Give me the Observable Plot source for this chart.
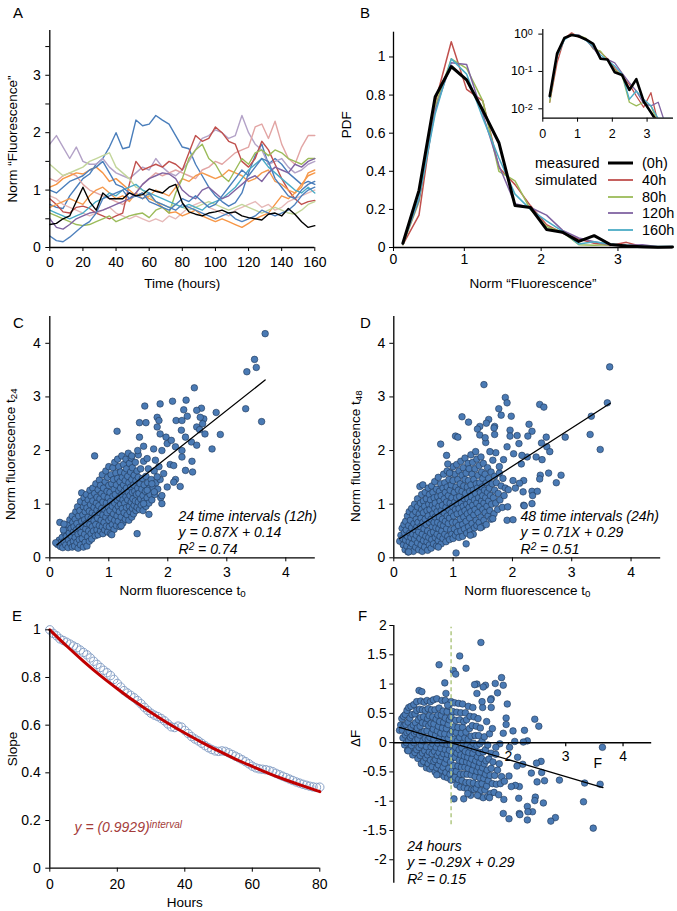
<!DOCTYPE html>
<html><head><meta charset="utf-8">
<script src="https://cdn.jsdelivr.net/npm/d3@7"></script>
<script src="https://cdn.jsdelivr.net/npm/@observablehq/plot@0.6"></script>
<style>
body{margin:0;background:#fff;}
#fig{position:relative;width:677px;height:911px;background:#fff;font-family:'Liberation Sans',Arial,Helvetica,sans-serif;color:#000;overflow:hidden;}
.abs{position:absolute;white-space:nowrap;}
.letter{position:absolute;font-size:15px;line-height:17px;}
</style></head><body><div id="fig"></div>
<script>
// ---------------- DATA ----------------
// Panel A: single-cell traces, sampled every 4 hours
const timeA = d3.range(0, 161, 4);
const aTraceIds = ["blue1","lavender","pink1","pink2","red","orange1","orange2","green","ltgreen","aqua","purple","blue2","blue3","black"];
const aTraceColors = ["#4a7ebb","#b3a2c7","#e2a5a4","#e6b9b8","#c0504d","#f79646","#f59a4e","#9bbb59","#c3d69b","#4bacc6","#8064a2","#4f81bd","#4a7ebb","#000000"];
const aBlue1 = [0.75,0.70,0.68,0.90,1.05, 1.20,1.28,1.45,1.55,1.75, 2.00,1.72,1.75,2.22,2.12, 2.15,2.30,2.22,2.15,1.95, 1.75,1.72,1.45,1.25,1.05, 0.90,0.80,0.72,0.78,0.95, 1.30,1.60,1.80,1.45,1.55, 1.45,1.30,1.20,1.10,1.15, 1.10];
const aLavender = [1.80,1.95,1.75,1.55,1.75, 1.50,1.45,1.45,1.55,1.40, 1.30,1.25,1.20,1.30,1.40, 1.35,1.55,1.40,1.30,1.25, 1.35,1.50,1.70,1.90,1.95, 2.05,2.00,1.90,1.95,2.30, 2.00,1.80,1.70,1.45,1.50, 1.55,1.40,1.30,1.35,1.45, 1.50];
const aPink1 = [1.20,1.15,1.25,1.30,1.25, 1.10,1.00,0.95,0.90,0.85, 0.80,0.75,0.85,0.95,1.10, 1.20,1.30,1.25,1.30,1.35, 1.30,1.25,1.20,1.35,1.40, 1.50,1.45,1.55,1.65,1.70, 1.75,2.10,2.15,1.90,2.20, 1.80,1.55,1.45,1.75,1.95, 1.95];
const aPink2 = [0.90,0.85,0.75,0.70,0.65, 0.60,0.55,0.60,0.65,0.70, 0.60,0.55,0.50,0.55,0.50, 0.45,0.50,0.45,0.55,0.50, 0.60,0.70,0.75,0.80,0.70, 0.65,0.60,0.55,0.65,0.70, 0.75,0.80,0.70,0.75,0.65, 0.70,0.80,0.85,0.90,0.95, 1.00];
const aRed = [0.85,0.75,0.62,0.60,0.70, 0.72,0.68,0.60,0.55,0.50, 0.55,0.60,1.10,1.50,1.35, 1.40,1.45,1.40,1.50,1.45, 1.35,1.65,1.95,1.85,1.90, 2.10,2.00,1.85,1.80,1.50, 1.40,1.55,1.85,1.70,1.45, 1.20,1.00,0.85,0.75,0.80, 0.82];
const aOrange1 = [1.05,1.10,1.20,1.25,1.30, 1.28,1.35,1.40,1.30,1.15, 1.20,1.10,1.00,0.90,0.95, 0.85,0.80,0.70,0.60,0.62, 0.55,0.60,0.65,0.55,0.50, 0.45,0.50,0.45,0.40,0.35, 0.42,0.50,0.55,0.60,0.75, 0.90,0.85,0.95,1.10,1.25, 1.30];
const aOrange2 = [0.70,0.75,0.80,0.85,0.80, 0.75,0.90,1.00,1.05,0.95, 0.85,0.90,0.80,0.95,0.85, 0.90,1.00,0.95,0.90,1.05, 1.20,1.15,1.25,1.30,1.25, 1.20,1.25,1.35,1.30,1.25, 1.15,1.20,1.30,1.35,1.15, 1.10,1.00,0.95,1.05,1.30, 1.35];
const aGreen = [0.60,0.55,0.50,0.45,0.40, 0.38,0.40,0.45,0.50,0.55, 0.45,0.50,0.55,0.58,0.60, 0.52,0.65,0.70,0.60,0.95, 1.20,1.55,1.70,1.80,1.55, 1.45,1.25,1.15,1.35,1.55, 1.45,1.65,1.70,1.60,1.70, 1.65,1.55,1.50,1.45,1.55, 1.55];
const aLtGreen = [1.45,1.35,1.25,1.30,1.35, 1.40,1.50,1.55,1.60,1.65, 1.40,1.30,1.20,1.05,1.00, 0.90,0.80,0.75,0.70,0.75, 0.70,0.65,0.70,0.75,0.80, 0.75,0.70,0.65,0.70,0.75, 0.70,0.65,0.60,0.65,0.70, 0.65,0.60,0.58,0.65,0.75, 0.80];
const aAqua = [0.65,0.60,0.55,0.50,0.55, 0.60,0.70,0.80,0.85,0.95, 0.90,1.00,1.05,1.10,1.00, 0.95,0.90,0.85,0.80,0.75, 0.70,0.75,0.70,0.65,0.75, 0.80,0.85,0.95,1.05,1.20, 1.35,1.45,1.55,1.40,1.30, 1.20,1.10,1.00,0.95,1.05, 0.95];
const aPurple = [0.50,0.35,0.32,0.40,0.50, 0.55,0.60,0.62,0.65,0.70, 0.75,0.80,0.85,0.95,1.10, 1.20,1.25,1.30,1.28,1.20, 1.00,0.90,0.85,1.00,1.05, 0.95,0.85,0.90,1.00,1.10, 1.20,1.25,1.15,1.30,1.40, 1.35,1.30,1.45,1.40,1.50, 1.55];
const aBlue2 = [0.20,0.12,0.10,0.18,0.28, 0.38,0.45,0.60,0.85,0.90, 0.95,1.00,0.85,0.90,0.85, 0.95,0.80,0.75,0.70,0.65, 0.75,0.70,0.65,0.60,0.55, 0.50,0.55,0.60,0.50,0.45, 0.50,0.55,0.65,0.60,0.55, 0.60,0.65,0.75,0.90,1.00, 1.05];
const aBlue3 = [1.00,0.95,1.05,1.15,1.20, 1.25,1.35,1.40,1.50,1.30, 1.10,1.05,0.95,0.90,0.95, 0.80,0.75,0.70,0.65,0.75, 0.85,0.80,0.90,0.80,0.70, 0.75,0.90,1.05,1.20,1.35, 1.25,1.40,1.55,1.50,1.20, 1.05,0.90,0.85,1.00,1.10, 1.15];
const aBlack = [0.40,0.42,0.50,0.55,0.80, 1.05,0.80,0.65,0.95,0.85, 0.85,0.85,0.95,0.90,0.92, 1.02,0.98,0.95,1.05,1.10, 0.78,0.62,0.58,0.55,0.60, 0.62,0.65,0.60,0.62,0.55, 0.52,0.50,0.48,0.58,0.60, 0.55,0.68,0.58,0.45,0.35, 0.38];
const aTraces = [aBlue1,aLavender,aPink1,aPink2,aRed,aOrange1,aOrange2,aGreen,aLtGreen,aAqua,aPurple,aBlue2,aBlue3,aBlack];
const aXTicks = [0,20,40,60,80,100,120,140,160];
const aYTicks = [0,0.5,1,1.5,2,2.5,3,3.5];

// Panel B: PDF of normalised fluorescence
const bBins = [0.2,0.41,0.62,0.83,1.03,1.24,1.45,1.66,1.86,2.07,2.28,2.49,2.69,2.9,3.11,3.32,3.52,3.71];
const bLabels = ["(0h)","40h","80h","120h","160h"];
const bColors = ["#000000","#c0504d","#9bbb59","#8064a2","#4bacc6"];
const bWidths = [3,1.5,1.5,1.5,1.5];
const b0h   = [0.022,0.30,0.79,0.95,0.88,0.72,0.55,0.22,0.21,0.095,0.08,0.032,0.062,0.016,0.008,0.004,0.001,0.003];
const b40h  = [0.015,0.17,0.76,1.08,0.83,0.77,0.42,0.33,0.22,0.12,0.075,0.045,0.022,0.011,0.027,0.004,0.002,0.002];
const b80h  = [0.015,0.24,0.74,0.99,0.94,0.77,0.40,0.35,0.20,0.11,0.08,0.015,0.012,0.015,0.012,0.004,0.002,0.002];
const b120h = [0.02,0.25,0.72,0.97,0.96,0.70,0.43,0.23,0.21,0.17,0.09,0.05,0.03,0.014,0.012,0.015,0.004,0.002];
const b160h = [0.02,0.26,0.70,0.99,0.91,0.68,0.47,0.28,0.20,0.14,0.085,0.018,0.03,0.018,0.012,0.0055,0.0055,0.0055];
const bSeries = [b0h,b40h,b80h,b120h,b160h];
const bYTicks = [0,0.2,0.4,0.6,0.8,1];
const bInsetYTicks = [1,0.1,0.01];

// Panel C: t0 vs t24 (dense cloud + outliers)
const cDense = [
 [0.13,0.25],[0.16,0.33],[0.18,0.21],[0.19,0.29],
 [0.21,0.38],[0.22,0.19],[0.24,0.30],[0.25,0.47],[0.27,0.24],[0.28,0.40],[0.29,0.55],[0.23,0.52],
 [0.31,0.19],[0.32,0.33],[0.33,0.46],[0.31,0.62],[0.34,0.71],[0.35,0.27],[0.36,0.55],[0.37,0.40],[0.38,0.20],[0.39,0.66],[0.38,0.78],[0.40,0.31],[0.40,0.48],
 [0.41,0.58],[0.42,0.22],[0.43,0.38],[0.43,0.72],[0.44,0.86],[0.45,0.52],[0.46,0.29],[0.46,0.64],[0.47,0.95],[0.48,0.44],[0.48,0.18],[0.49,0.78],[0.50,0.57],[0.50,0.34],
 [0.51,0.88],[0.52,0.24],[0.52,1.05],[0.53,0.47],[0.54,0.68],[0.54,1.21],[0.55,0.36],[0.56,0.80],[0.56,0.58],[0.57,0.95],[0.57,0.20],[0.58,1.12],[0.59,0.44],[0.59,0.71],[0.60,0.29],[0.60,0.86],[0.60,1.02],
 [0.61,0.54],[0.62,0.64],[0.62,1.18],[0.63,0.22],[0.63,0.93],[0.64,0.39],[0.65,0.76],[0.65,1.08],[0.66,0.50],[0.67,0.31],[0.67,0.87],[0.68,1.26],[0.68,0.62],[0.69,0.99],[0.70,0.45],[0.70,0.73],[0.70,1.15],
 [0.71,0.35],[0.72,0.84],[0.72,0.58],[0.73,1.06],[0.73,1.30],[0.74,0.50],[0.75,0.94],[0.75,0.69],[0.76,1.20],[0.77,0.41],[0.77,0.80],[0.78,1.38],[0.78,0.62],[0.79,1.02],[0.80,0.52],[0.80,0.89],[0.80,1.13],
 [0.81,0.74],[0.82,1.27],[0.82,0.43],[0.83,0.97],[0.84,0.60],[0.84,1.45],[0.85,0.84],[0.85,1.10],[0.86,0.50],[0.86,1.35],[0.87,0.70],[0.88,0.92],[0.88,1.20],[0.89,0.58],[0.89,1.55],[0.90,0.80],[0.90,1.04],[0.90,0.45],
 [0.91,1.30],[0.92,0.66],[0.92,1.15],[0.93,0.52],[0.93,0.90],[0.94,1.42],[0.95,0.76],[0.95,1.62],[0.96,1.02],[0.96,0.59],[0.97,1.24],[0.97,0.84],[0.98,1.50],[0.98,0.48],[0.99,0.95],[0.99,1.12],[1.00,0.70],[1.00,1.35],[1.00,1.70],
 [1.01,0.58],[1.02,0.88],[1.02,1.22],[1.03,1.05],[1.03,0.45],[1.04,1.55],[1.04,0.74],[1.05,1.38],[1.06,0.96],[1.06,0.62],[1.07,1.15],[1.07,1.68],[1.08,0.82],[1.08,1.46],[1.09,0.53],[1.09,1.28],[1.10,1.02],[1.10,0.70],[1.10,1.78],
 [1.11,1.18],[1.12,0.90],[1.12,1.58],[1.13,0.60],[1.13,1.36],[1.14,0.78],[1.14,1.08],[1.15,1.48],[1.15,1.84],[1.16,0.96],[1.16,0.68],[1.17,1.25],[1.17,1.70],[1.18,0.86],[1.18,1.12],[1.19,1.42],[1.19,0.58],[1.20,1.00],[1.20,1.60],[1.20,1.30],
 [1.21,0.76],[1.22,1.18],[1.22,1.90],[1.23,0.92],[1.23,1.50],[1.24,0.65],[1.24,1.08],[1.25,1.36],[1.25,1.74],[1.26,0.84],[1.26,1.24],[1.27,1.02],[1.27,1.58],[1.28,0.72],[1.28,1.44],[1.29,1.14],[1.29,1.84],[1.30,0.94],[1.30,1.30],[1.30,1.66],
 [1.31,0.80],[1.32,1.08],[1.32,1.52],[1.33,1.22],[1.33,1.95],[1.34,0.70],[1.34,1.40],[1.35,0.96],[1.35,1.76],[1.36,1.16],[1.36,0.86],[1.37,1.60],[1.37,1.32],[1.38,1.04],[1.38,1.86],[1.39,0.76],[1.39,1.46],[1.40,1.22],[1.40,0.92],[1.40,1.68],
 [1.41,1.10],[1.42,1.36],[1.42,0.82],[1.43,1.54],[1.43,0.98],[1.44,1.24],[1.45,1.78],[1.45,1.06],[1.46,0.88],[1.46,1.44],[1.47,1.18],[1.48,1.62],[1.48,0.94],[1.49,1.30],[1.50,1.04],[1.50,1.92],[1.50,1.50],
 [1.51,1.20],[1.52,0.90],[1.53,1.38],[1.54,1.10],[1.54,1.66],[1.55,0.98],[1.56,1.28],[1.57,1.48],[1.58,1.16],[1.58,0.88],[1.59,1.80],[1.60,1.36],[1.60,1.06],
 [1.62,1.24],[1.63,0.96],[1.63,1.52],[1.65,1.12],[1.66,1.40],[1.67,1.66],[1.68,1.02],[1.69,1.30],[1.70,1.18],
 [1.72,1.46],[1.73,1.08],[1.75,1.30],[1.77,1.62],[1.78,1.18],[1.80,1.40],[1.83,1.28],[1.85,1.70],[1.87,1.46],[1.88,1.12]
];
const cOutliers = [[3.65,4.18],[3.47,3.70],[3.50,3.55],[3.34,3.47],[3.32,2.78],[3.59,2.54],[2.45,3.17],[2.08,2.92],[2.31,2.94],[2.27,2.76],[2.33,2.64],[1.61,2.83],[1.87,2.87],[2.82,2.71],[2.57,2.79],[2.49,2.75],[2.61,2.59],[2.55,2.62],[2.59,2.50],[2.49,2.44],[2.54,2.39],[2.63,2.31],[2.89,2.30],[2.75,2.03],[2.41,1.80],[2.30,1.63],[2.42,1.60],[2.21,1.33],[2.13,1.46],[2.10,1.41],[1.14,2.36],[0.76,1.90],[1.52,2.52],[1.63,2.52],[1.82,2.62],[1.85,2.56],[2.14,2.56],[2.24,2.56],[1.82,2.44],[1.87,2.31],[1.97,2.25],[2.23,2.38],[2.30,2.25],[2.40,2.16],[2.49,2.10],[2.13,2.07],[2.24,2.00],[1.99,2.13],[2.06,2.19],[1.90,2.00],[1.76,2.03],[1.59,2.08],[1.52,2.25],[1.39,1.90],[1.49,2.00],[1.65,1.85],[1.79,1.82],[2.24,1.88],[2.04,1.74],[1.93,1.57],[1.82,1.51],[1.90,1.16],[1.90,1.01],[1.77,1.23],[1.65,1.26],[1.73,1.38],[1.99,1.32],[2.10,1.72],[1.48,0.45],[1.21,0.60],[1.05,0.43],[1.68,0.81],[1.59,1.01],[0.17,0.66],[0.24,0.63],[0.10,0.28]];
const cFit = {slope: 0.87, intercept: 0.14, from: 0.12, to: 3.65};

// Panel D: t0 vs t48
const dDense = [
 [0.10,0.31],[0.12,0.42],[0.14,0.55],[0.15,0.36],[0.16,0.24],[0.17,0.62],[0.18,0.47],[0.19,0.15],[0.20,0.33],[0.20,0.68],
 [0.21,0.52],[0.22,0.22],[0.23,0.40],[0.23,0.78],[0.24,0.11],[0.25,0.60],[0.26,0.30],[0.26,0.86],[0.27,0.46],[0.28,0.18],[0.28,0.70],[0.29,0.38],[0.30,0.56],[0.30,0.92],
 [0.31,0.26],[0.32,0.80],[0.32,0.44],[0.33,0.12],[0.34,0.64],[0.35,0.35],[0.35,1.00],[0.36,0.52],[0.37,0.20],[0.37,0.86],[0.38,0.72],[0.38,0.42],[0.39,0.58],[0.40,0.28],[0.40,1.10],[0.40,0.95],
 [0.41,0.66],[0.42,0.15],[0.42,0.48],[0.43,0.82],[0.44,1.33],[0.44,0.36],[0.45,1.02],[0.45,0.58],[0.46,0.24],[0.46,0.74],[0.47,0.90],[0.47,1.18],[0.48,0.44],[0.48,0.12],[0.49,1.36],[0.49,0.66],[0.50,0.32],[0.50,0.84],[0.50,1.06],
 [0.51,0.54],[0.52,0.20],[0.52,0.96],[0.53,0.72],[0.53,1.22],[0.54,0.40],[0.55,0.62],[0.55,1.10],[0.56,0.30],[0.56,0.88],[0.57,0.14],[0.57,0.50],[0.58,1.30],[0.58,0.78],[0.59,1.00],[0.59,0.38],[0.60,0.66],[0.60,1.18],[0.60,0.24],
 [0.61,0.90],[0.62,0.46],[0.62,1.08],[0.63,0.18],[0.63,0.72],[0.64,1.34],[0.64,0.34],[0.65,0.58],[0.65,0.98],[0.66,1.22],[0.66,0.82],[0.67,0.26],[0.67,0.48],[0.68,1.12],[0.68,0.66],[0.69,0.92],[0.69,1.42],[0.70,0.38],[0.70,0.76],[0.70,1.02],
 [0.71,0.56],[0.72,1.28],[0.72,0.22],[0.73,0.86],[0.73,0.44],[0.74,1.14],[0.74,0.66],[0.75,1.50],[0.75,0.32],[0.76,0.96],[0.76,0.54],[0.77,1.24],[0.77,0.76],[0.78,1.06],[0.78,0.40],[0.79,0.62],[0.79,1.38],[0.80,0.88],[0.80,0.26],[0.80,1.16],
 [0.81,0.50],[0.82,0.98],[0.82,0.72],[0.83,1.30],[0.83,0.36],[0.84,1.56],[0.84,0.60],[0.85,1.10],[0.85,0.84],[0.86,0.44],[0.86,1.40],[0.87,0.68],[0.87,1.22],[0.88,0.94],[0.88,0.30],[0.89,1.04],[0.89,0.54],[0.90,1.62],[0.90,0.78],[0.90,1.32],
 [0.91,0.40],[0.92,1.16],[0.92,0.64],[0.93,0.90],[0.93,1.46],[0.94,0.34],[0.94,0.74],[0.95,1.26],[0.95,1.02],[0.96,0.52],[0.96,1.58],[0.97,0.84],[0.97,1.36],[0.98,0.44],[0.98,1.12],[0.99,0.66],[0.99,0.96],[1.00,1.70],[1.00,1.44],[1.00,0.36],
 [1.01,0.78],[1.02,1.22],[1.02,0.54],[1.03,1.04],[1.03,1.56],[1.04,0.42],[1.04,0.90],[1.05,1.32],[1.05,0.66],[1.06,1.74],[1.06,1.12],[1.07,0.48],[1.07,0.82],[1.08,1.46],[1.08,1.00],[1.09,0.60],[1.09,1.26],[1.10,0.38],[1.10,1.62],[1.10,0.92],
 [1.11,1.14],[1.12,0.72],[1.12,1.38],[1.13,0.50],[1.13,1.80],[1.14,1.02],[1.14,0.84],[1.15,1.54],[1.15,1.24],[1.16,0.62],[1.16,0.40],[1.17,0.96],[1.17,1.68],[1.18,1.34],[1.18,0.76],[1.19,1.10],[1.19,0.54],[1.20,1.46],[1.20,1.86],[1.20,0.88],
 [1.21,1.20],[1.22,0.68],[1.22,1.58],[1.23,0.46],[1.23,1.00],[1.24,1.32],[1.24,0.82],[1.25,1.76],[1.25,1.10],[1.26,0.58],[1.26,1.44],[1.27,0.94],[1.27,1.66],[1.28,1.24],[1.28,0.74],[1.29,0.50],[1.29,1.04],[1.30,1.92],[1.30,1.36],[1.30,0.86],
 [1.31,1.14],[1.32,0.64],[1.32,1.56],[1.33,0.98],[1.33,1.78],[1.34,0.44],[1.34,1.26],[1.35,0.80],[1.35,1.46],[1.36,1.08],[1.36,0.56],[1.37,1.66],[1.37,0.90],[1.38,1.20],[1.38,1.98],[1.39,0.70],[1.39,1.38],[1.40,1.02],[1.40,1.84],[1.40,0.60],
 [1.41,1.30],[1.42,0.84],[1.42,1.54],[1.43,1.12],[1.44,0.66],[1.44,1.72],[1.45,0.96],[1.45,1.40],[1.46,1.22],[1.47,0.76],[1.47,1.88],[1.48,1.06],[1.48,1.60],[1.49,0.58],[1.49,1.32],[1.50,0.90],[1.50,1.16],[1.50,1.48],
 [1.51,1.76],[1.52,1.02],[1.52,0.70],[1.53,1.26],[1.54,1.56],[1.54,0.84],[1.55,1.12],[1.56,1.40],[1.56,0.62],[1.57,0.96],[1.58,1.68],[1.58,1.22],[1.59,0.78],[1.60,1.06],[1.60,1.48],
 [1.61,1.30],[1.62,0.88],[1.63,1.16],[1.64,1.60],[1.64,0.72],[1.65,1.00],[1.66,1.38],[1.67,1.82],[1.68,1.12],[1.69,0.82],[1.70,1.26],[1.70,1.52],
 [1.72,1.02],[1.73,1.40],[1.75,0.90],[1.76,1.20],[1.78,1.58],[1.79,1.08],[1.81,1.34],[1.83,0.94],[1.84,1.48],[1.86,1.16],[1.88,1.30]
];
const dOutliers = [[3.64,3.56],[3.60,2.89],[3.31,2.30],[3.48,2.02],[3.33,2.64],[1.52,3.23],[1.88,2.99],[1.91,2.89],[1.77,2.78],[1.81,2.66],[1.98,2.64],[1.60,2.58],[1.70,2.45],[1.56,2.51],[1.45,2.45],[1.15,2.63],[1.26,2.53],[2.46,2.86],[2.53,2.81],[2.28,2.49],[2.33,2.36],[2.26,2.27],[1.96,2.38],[2.08,2.28],[2.11,2.13],[1.96,2.27],[1.04,2.27],[1.08,2.25],[0.79,2.12],[0.91,1.75],[0.94,1.58],[2.57,2.25],[2.49,2.14],[2.58,2.07],[2.63,1.98],[2.89,2.25],[2.40,1.88],[2.50,1.83],[2.25,1.88],[2.15,1.75],[2.16,1.91],[2.02,1.94],[1.91,2.07],[1.85,1.83],[2.47,1.54],[2.46,1.47],[2.61,1.58],[2.82,1.54],[2.74,1.40],[2.33,1.24],[2.42,1.24],[2.34,1.16],[2.33,1.01],[2.19,1.44],[2.18,1.23],[2.19,0.98],[2.12,1.39],[2.01,1.44],[1.93,1.27],[1.92,0.95],[1.91,0.70],[2.01,0.71],[1.67,0.73],[1.46,0.56],[1.22,0.26],[1.29,0.42],[0.75,0.20],[0.25,0.11],[1.05,0.09],[2.20,0.97],[2.05,1.30],[1.72,1.96],[1.62,1.98],[1.55,2.15],[1.78,1.70],[0.89,1.91],[1.41,2.40],[1.70,2.30],[1.45,2.29],[1.69,2.42],[1.54,2.24]];
const dFit = {slope: 0.71, intercept: 0.29, from: 0.10, to: 3.65};

// Panel E: regression slope vs interval length
const eHours = d3.range(0, 81);
const eSlope = [1.000,0.985,0.975,0.962,0.955,0.948,0.940,0.932,0.925,0.915,0.905,0.895,0.882,0.868,0.855,0.842,0.830,0.820,0.808,0.792,0.775,0.760,0.745,0.735,0.725,0.715,0.703,0.690,0.675,0.662,0.650,0.642,0.636,0.628,0.618,0.605,0.593,0.590,0.596,0.592,0.578,0.565,0.552,0.542,0.534,0.524,0.514,0.505,0.498,0.492,0.490,0.492,0.490,0.484,0.477,0.470,0.463,0.455,0.447,0.438,0.428,0.421,0.417,0.415,0.413,0.410,0.405,0.398,0.392,0.386,0.380,0.374,0.368,0.362,0.357,0.352,0.348,0.344,0.341,0.339,0.340];
const eFitHours = [0,5,10,15,20,25,30,35,40,45,50,55,60,65,70,75,80];
const eFitSlope = [1.0,0.932,0.868,0.808,0.753,0.701,0.653,0.608,0.567,0.528,0.492,0.458,0.427,0.397,0.370,0.345,0.321];

// Panel F: change over 24 h (same cells as D)
const fFit = {slope: -0.29, intercept: 0.29, from: 0.10, to: 3.65};
const fThreshold = {x: 1, y1: -1.4, y2: 1.97};
const fXTicks = [1,2,3,4];
const fYTicks = [-2,-1.5,-1,-0.5,0,0.5,1,1.5,2];

// ---------------- HELPERS ----------------
const FONT = "'Liberation Sans', Arial, Helvetica, sans-serif";
const fig = document.getElementById("fig");
const DOT_FILL = "#4a7ab4", DOT_STROKE = "#1e3656";
function st(size){ return {fontFamily: FONT, fontSize: size + "px", background: "transparent", color: "#000", overflow: "visible"}; }
function place(el, left, top){ el.style.position = "absolute"; el.style.left = left + "px"; el.style.top = top + "px"; fig.appendChild(el); richify(el); return el; }
function richify(root){
  const NS = "http://www.w3.org/2000/svg";
  root.querySelectorAll("text, tspan").forEach(el => {
    if (el.children.length) return;
    const s = el.textContent;
    if (!/[\^_]\{/.test(s)) return;
    el.textContent = "";
    const re = /([\^_])\{([^}]*)\}/g; let last = 0, m;
    const add = (txt, kind) => { const t = document.createElementNS(NS, "tspan"); t.textContent = txt;
      if (kind) { t.setAttribute("font-size", "72%"); t.setAttribute("baseline-shift", kind === "^" ? "38%" : "-22%"); }
      el.appendChild(t); };
    while ((m = re.exec(s))) { if (m.index > last) add(s.slice(last, m.index)); add(m[2], m[1]); last = re.lastIndex; }
    if (last < s.length) add(s.slice(last));
  });
}
const fmt = d => String(d);
const xTitle = (t, dy) => Plot.text([t], {text: d => d, frameAnchor: "bottom", dy, lineAnchor: "middle", textAnchor: "middle", fontSize: 13.5});
const yTitle = (t, dx, dy = 0) => Plot.text([t], {text: d => d, frameAnchor: "left", dx, dy, rotate: -90, textAnchor: "middle", lineAnchor: "middle", fontSize: 13.5});

// ---------------- PANEL A ----------------
const aRows = aTraces.flatMap((vals, i) => vals.map((v, j) => ({id: aTraceIds[i], color: aTraceColors[i], t: timeA[j], v})));
place(Plot.plot({
  width: 340, height: 300, marginLeft: 49.3, marginRight: 25.7, marginTop: 30, marginBottom: 53,
  style: st(14), x: {domain: [0, 160]}, y: {domain: [0, 3.78]}, color: {type: "identity"},
  marks: [
    Plot.line(aRows, {x: "t", y: "v", z: "id", stroke: "color", strokeWidth: 1.4}),
    Plot.ruleX([0], {strokeWidth: 1.3}), Plot.ruleY([0], {strokeWidth: 1.3}),
    Plot.axisX({ticks: aXTicks, tickSize: 4, tickPadding: 6, label: null, tickFormat: fmt}),
    Plot.axisY({ticks: aYTicks, tickSize: 4, tickPadding: 5, label: null, tickFormat: d => Number.isInteger(d) ? String(d) : ""}),
    xTitle("Time (hours)", 36),
    yTitle("Norm “Fluorescence”", -37)
  ]
}), 0, 0);

// ---------------- PANEL B ----------------
const bRows = bSeries.flatMap((vals, i) => vals.map((v, j) => ({id: bLabels[i], color: bColors[i], measured: i === 0, x: bBins[j], v})));
const bSim = bRows.filter(d => !d.measured), bMeas = bRows.filter(d => d.measured);
place(Plot.plot({
  width: 337, height: 300, marginLeft: 53, marginRight: 5, marginTop: 31.7, marginBottom: 53,
  style: st(14), x: {domain: [0.078, 3.71]}, y: {domain: [0, 1.13]}, color: {type: "identity"},
  marks: [
    Plot.line(bSim, {x: "x", y: "v", z: "id", stroke: "color", strokeWidth: 1.5}),
    Plot.line(bMeas, {x: "x", y: "v", z: "id", stroke: "color", strokeWidth: 3}),
    Plot.ruleX([0.078], {strokeWidth: 1.3}), Plot.ruleY([0], {strokeWidth: 1.3}),
    Plot.axisX({ticks: [0.078, 1, 2, 3], tickSize: 4, tickPadding: 3, label: null, tickFormat: d => d < 0.5 ? "0" : String(d)}),
    Plot.axisY({ticks: bYTicks, tickSize: 4, tickPadding: 4, label: null, tickFormat: fmt}),
    xTitle("Norm “Fluorescence”", 36),
    yTitle("PDF", -47, -15)
  ]
}), 340, 0);

// inset (log scale)
place(Plot.plot({
  width: 187, height: 140, marginLeft: 52.3, marginRight: 4, marginTop: 29, marginBottom: 22.3,
  style: st(12.5), x: {domain: [0, 3.76]}, y: {type: "log", domain: [0.0056, 1.33]}, color: {type: "identity"},
  marks: [
    Plot.line(bSim, {x: "x", y: "v", z: "id", stroke: "color", strokeWidth: 1.3, clip: true}),
    Plot.line(bMeas, {x: "x", y: "v", z: "id", stroke: "color", strokeWidth: 2.6, clip: true}),
    Plot.ruleX([0], {strokeWidth: 1.2}), Plot.ruleY([0.0056], {strokeWidth: 1.2}),
    Plot.axisX({ticks: [0, 1, 2, 3], tickSize: 4, tickPadding: 7, label: null, tickFormat: fmt}),
    Plot.axisY({ticks: bInsetYTicks, tickSize: 4, tickPadding: 6, label: null, tickFormat: d => "10^{" + Math.round(Math.log10(d)) + "}"})
  ]
}), 490, 0);

// legend for B
["measured", "simulated"].forEach((t, i) => {
  const el = document.createElement("div"); el.className = "abs";
  el.style.fontSize = "14.5px"; el.style.lineHeight = "18px"; el.textContent = t;
  place(el, 535, 163.3 + i * 16.7 - 9);
});
bLabels.forEach((lab, i) => {
  const el = document.createElement("div"); el.className = "abs";
  el.style.cssText += "display:flex;align-items:center;height:18px;font-size:14.5px;";
  el.innerHTML = `<svg width="34" height="18" style="display:block"><line x1="0" x2="25" y1="9" y2="9" stroke="${bColors[i]}" stroke-width="${bWidths[i] === 3 ? 3 : 1.8}"/></svg><span>${lab}</span>`;
  place(el, 608, 163.3 + i * 16.7 - 9);
});

// ---------------- PANELS C & D ----------------
function scatter(points, fit, opts){
  return Plot.plot({
    width: opts.width, height: 320, marginLeft: opts.ml, marginRight: opts.mr, marginTop: 26, marginBottom: 52.7,
    style: st(14), x: {domain: [0, 4.5]}, y: {domain: [0, 4.5]},
    marks: [
      Plot.dot(points, {x: d => d[0], y: d => d[1], r: 3.3, fill: DOT_FILL, stroke: DOT_STROKE, strokeWidth: 0.6}),
      Plot.line([fit.from, fit.to], {x: d => d, y: d => fit.slope * d + fit.intercept, stroke: "#000", strokeWidth: 1.3}),
      Plot.ruleX([0], {strokeWidth: 1.3}), Plot.ruleY([0], {strokeWidth: 1.3}),
      Plot.axisX({ticks: [0, 1, 2, 3, 4], tickSize: 4, tickPadding: 5.3, label: null, tickFormat: fmt}),
      Plot.axisY({ticks: [0, 1, 2, 3, 4], tickSize: 4, tickPadding: opts.pad, label: null, tickFormat: fmt}),
      xTitle("Norm fluorescence t_{0}", 33),
      yTitle(opts.ylabel, opts.ydx, opts.ydy),
      Plot.text([opts.note], {text: d => d, frameAnchor: "top-left", dx: opts.ndx, dy: 215.7, textAnchor: "start", lineAnchor: "middle", lineHeight: 1.18, fontSize: 14, fontStyle: "italic"})
    ]
  });
}
const cPoints = cDense.concat(cOutliers);
place(scatter(cPoints, cFit, {width: 340, ml: 49.3, mr: 25.2, pad: 5, ydx: -39, ydy: 17, ndx: 128.7,
  ylabel: "Norm fluorescence t_{24}", note: "24 time intervals (12h)\ny = 0.87X + 0.14\nR^{2} = 0.74"}), 0, 290);
const dPoints = dDense.concat(dOutliers);
place(scatter(dPoints, dFit, {width: 337, ml: 53.3, mr: 16.8, pad: 4.5, ydx: -38, ydy: 19, ndx: 126.7,
  ylabel: "Norm fluorescence t_{48}", note: "48 time intervals (24h)\ny = 0.71X + 0.29\nR^{2} = 0.51"}), 340, 290);

// ---------------- PANEL E ----------------
const eRows = eHours.map((h, i) => ({h, s: eSlope[i]}));
const eFitRows = eFitHours.map((h, i) => ({h, s: eFitSlope[i]}));
place(Plot.plot({
  width: 340, height: 311, marginLeft: 49.3, marginRight: 20.7, marginTop: 29.3, marginBottom: 43.3,
  style: st(14), x: {domain: [0, 80]}, y: {domain: [0, 1]},
  marks: [
    Plot.dot(eRows, {x: "h", y: "s", r: 4.2, stroke: "#8aa3c8", strokeWidth: 1, fill: "none"}),
    Plot.line(eFitRows, {x: "h", y: "s", curve: "natural", stroke: "#c00000", strokeWidth: 3}),
    Plot.ruleX([0], {strokeWidth: 1.3}), Plot.ruleY([0], {strokeWidth: 1.3}),
    Plot.axisX({ticks: [0, 20, 40, 60, 80], tickSize: 4, tickPadding: 6.7, label: null, tickFormat: fmt}),
    Plot.axisY({ticks: [0, 0.2, 0.4, 0.6, 0.8, 1], tickSize: 4, tickPadding: 5, label: null, tickFormat: fmt}),
    xTitle("Hours", 34),
    yTitle("Slope", -37),
    Plot.text(["y = (0.9929)^{interval}"], {text: d => d, frameAnchor: "top-left", dx: 24.7, dy: 197.4, textAnchor: "start", lineAnchor: "middle", fontSize: 14, fontStyle: "italic", fill: "#a43c3a"})
  ]
}), 0, 600);

// ---------------- PANEL F ----------------
const fPoints = dPoints.map(([x, y]) => [x, y - x]);
place(Plot.plot({
  width: 337, height: 311, marginLeft: 53.3, marginRight: 25.8, marginTop: 25, marginBottom: 28.3,
  style: st(14), x: {domain: [0, 4.5], axis: null}, y: {domain: [-2.4, 2]},
  marks: [
    Plot.ruleX(fXTicks, {x: d => d, y1: 0, y2: -0.07, strokeWidth: 1.2}),
    Plot.text(fXTicks, {x: d => d, y: 0, dy: 14, text: fmt, fontSize: 14}),
    Plot.dot(fPoints, {x: d => d[0], y: d => d[1], r: 3.3, fill: DOT_FILL, stroke: DOT_STROKE, strokeWidth: 0.6}),
    Plot.ruleY([0], {strokeWidth: 1.5}),
    Plot.ruleX([fThreshold], {x: "x", y1: "y1", y2: "y2", stroke: "#b6cc8c", strokeWidth: 1.6, strokeDasharray: "4,3"}),
    Plot.line([fFit.from, fFit.to], {x: d => d, y: d => fFit.slope * d + fFit.intercept, stroke: "#000", strokeWidth: 1.3}),
    Plot.ruleX([0], {strokeWidth: 1.3}),
    Plot.axisY({ticks: fYTicks, tickSize: 4, tickPadding: 3, label: null, tickFormat: fmt}),
    Plot.text(["F"], {text: d => d, frameAnchor: "top-left", dx: 199.7, dy: 138, lineAnchor: "middle", fontSize: 14}),
    yTitle("ΔF", -38, -16),
    Plot.text(["24 hours\ny = -0.29X + 0.29\nR^{2} = 0.15"], {text: d => d, frameAnchor: "top-left", dx: 13.4, dy: 236.7, textAnchor: "start", lineAnchor: "middle", lineHeight: 1.18, fontSize: 14, fontStyle: "italic"})
  ]
}), 340, 600);

// ---------------- PANEL LETTERS ----------------
[["A",13,4],["B",360,4],["C",13,314],["D",360,314],["E",12,607],["F",358,607]].forEach(([t, l, tp]) => {
  const el = document.createElement("div"); el.className = "letter"; el.textContent = t; place(el, l, tp);
});
</script></body></html>
